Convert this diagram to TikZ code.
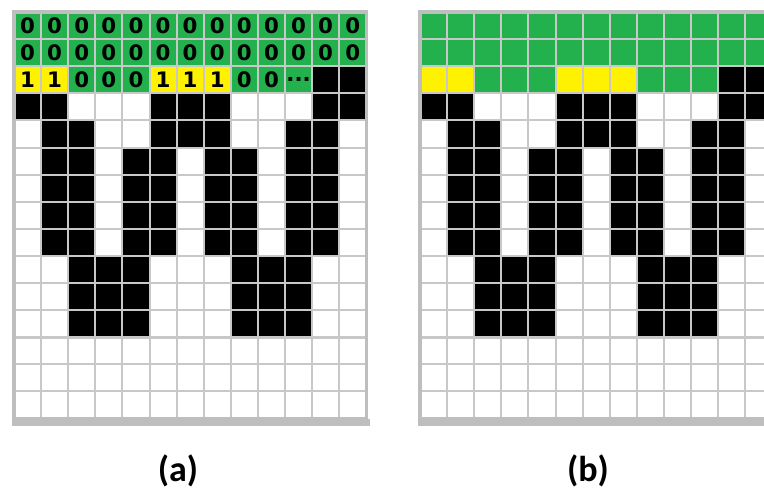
\documentclass[tikz,border=0pt]{standalone}
\usepackage{fontspec}
\newfontfamily\cellfont{DejaVu Sans}
\newfontfamily\capfont{Carlito}
\usepackage{xcolor}

\definecolor{cellgreen}{HTML}{22B14C}
\definecolor{cellyellow}{HTML}{FFF200}
\definecolor{gridgray}{HTML}{C8C8C8}
\definecolor{framegray}{HTML}{BEBEBE}

% the W pattern, one unit per cell, rows counted downwards
\newcommand{\wavecells}{%
\fill[cellgreen] (0,0) rectangle (13,3);
\foreach \c in {1,2,6,7,8} {\fill[cellyellow] (\c-1,2) rectangle (\c,3);}
\foreach \c in {12,13} {\fill (\c-1,2) rectangle (\c,3);}
\foreach \c in {1,2,6,7,8,12,13} {\fill (\c-1,3) rectangle (\c,4);}
\foreach \c in {2,3,6,7,8,11,12} {\fill (\c-1,4) rectangle (\c,5);}
\foreach \r in {6,...,9} \foreach \c in {2,3,5,6,8,9,11,12} {\fill (\c-1,\r-1) rectangle (\c,\r);}
\foreach \r in {10,11,12} \foreach \c in {3,4,5,9,10,11} {\fill (\c-1,\r-1) rectangle (\c,\r);}
\foreach \i in {1,...,12} {\draw[gridgray,line width=1.5pt] (\i,0) -- (\i,15);}
\foreach \i in {1,...,14} {\draw[gridgray,line width=1.5pt] (0,\i) -- (13,\i);}
\draw[gridgray,line width=2.2pt] (0,12) -- (13,12);
\draw[framegray,line width=2.4pt] (0,0) rectangle (13,15);
\fill[framegray] (-0.06,15) rectangle (13.12,15.26);
}

\begin{document}
\begin{tikzpicture}[x=0.75pt,y=-0.75pt,
  bit/.style={font=\cellfont\bfseries\fontsize{16}{16}\selectfont,inner sep=0pt},
  caption/.style={font=\capfont\bfseries\fontsize{27}{27}\selectfont,inner sep=0pt}]
\useasboundingbox (0,0) rectangle (764,489);
\fill[white] (0,0) rectangle (764,489);
% (a) with the bits written in
\begin{scope}[shift={(14,12)},x=20.325pt,y=-20.325pt]
\wavecells
\foreach \r in {1,2} \foreach \c in {1,...,13} {\node[bit] (z\r-\c) at (\c-0.5,\r-0.5) {0};}
\foreach \c in {1,2,6,7,8} {\node[bit] (o3-\c) at (\c-0.5,2.5) {1};}
\foreach \c in {3,4,5,9,10} {\node[bit] (z3-\c) at (\c-0.5,2.5) {0};}
\node[bit] (dots) at (10.5,2.5) {...};
\end{scope}
% (b) plain, cut at the right edge
\begin{scope}
\clip (0,0) rectangle (764,489);
\begin{scope}[shift={(420,12)},x=20.325pt,y=-20.325pt]
\wavecells
\end{scope}
\end{scope}
\node[caption] (capa) at (178,471) {(a)};
\node[caption] (capb) at (588,471) {(b)};
\end{tikzpicture}
\end{document}
